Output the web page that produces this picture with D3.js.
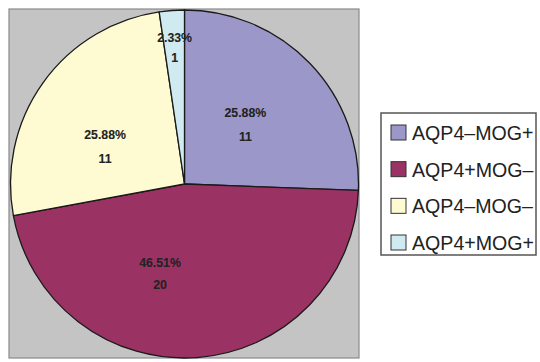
<!DOCTYPE html>
<html>
<head>
<meta charset="utf-8">
<script src="https://cdn.jsdelivr.net/npm/d3@7"></script>
<style>
  html, body { margin: 0; padding: 0; background: #ffffff; }
  svg { display: block; }
</style>
</head>
<body>
<svg id="chart" width="540" height="362"></svg>
<script>
// Patient groups by antibody status
const categories = ["AQP4\u2013MOG+", "AQP4+MOG\u2013", "AQP4\u2013MOG\u2013", "AQP4+MOG+"];
const counts = [11, 20, 11, 1];
const percentLabels = ["25.88%", "46.51%", "25.88%", "2.33%"];
const colors = ["#9b98c9", "#9a3364", "#fefbd2", "#cfeaf1"];

const svg = d3.select("#chart");

// Plot area
const plot = { x: 9, y: 9, w: 350, h: 349 };
svg.append("rect")
  .attr("x", plot.x).attr("y", plot.y)
  .attr("width", plot.w).attr("height", plot.h)
  .attr("fill", "#c4c4c4")
  .attr("stroke", "#8a8a8a")
  .attr("stroke-width", 1.2);

const cx = 184.5, cy = 184, r = 174;

const data = categories.map((c, i) => ({ name: c, value: counts[i], pct: percentLabels[i], color: colors[i] }));

const pie = d3.pie().value(d => d.value).sort(null);
const arc = d3.arc().innerRadius(0).outerRadius(r);

const g = svg.append("g").attr("transform", `translate(${cx},${cy})`);
const arcs = pie(data);

g.selectAll("path.slice")
  .data(arcs)
  .join("path")
  .attr("class", "slice")
  .attr("d", arc)
  .attr("fill", d => d.data.color)
  .attr("stroke", "#1a1a1a")
  .attr("stroke-width", 1.3)
  .attr("stroke-linejoin", "round");

// Label placement per slice: fraction of the radius and an angular nudge (degrees)
const labelRadius = [0.486, 0.536, 0.504, 0.783];
const labelNudge = [0, 19.4, -10.5, 0];
const lineGap = [24, 22, 24, 20];
arcs.forEach((d, i) => {
  const a = (d.startAngle + d.endAngle) / 2 + labelNudge[i] * Math.PI / 180;
  const rr = r * labelRadius[i];
  const x = rr * Math.sin(a);
  const y = -rr * Math.cos(a);
  const t = g.append("text")
    .attr("text-anchor", "middle")
    .attr("font-family", "Liberation Sans, Arial, sans-serif")
    .attr("font-size", 12.3)
    .attr("font-weight", "bold")
    .attr("fill", "#222222")
    .attr("stroke", "#222222")
    .attr("stroke-width", 0.1);
  t.append("tspan").attr("x", x).attr("y", y - lineGap[i] / 2 + 4).text(d.data.pct);
  t.append("tspan").attr("x", x).attr("y", y + lineGap[i] / 2 + 4).text(d.data.value);
});

// Legend
const legend = svg.append("g");
legend.append("rect")
  .attr("x", 381).attr("y", 113)
  .attr("width", 155).attr("height", 142)
  .attr("fill", "#ffffff")
  .attr("stroke", "#555555")
  .attr("stroke-width", 1.5);

const rowY = d3.scalePoint().domain(categories).range([133, 243]);

const rows = legend.selectAll("g.row")
  .data(data)
  .join("g")
  .attr("class", "row")
  .attr("transform", d => `translate(0,${rowY(d.name)})`);

rows.append("rect")
  .attr("x", 391).attr("y", -8)
  .attr("width", 15).attr("height", 15)
  .attr("fill", d => d.color)
  .attr("stroke", "#333333")
  .attr("stroke-width", 1);

rows.append("text")
  .attr("x", 412).attr("y", 7)
  .attr("font-family", "Liberation Sans, Arial, sans-serif")
  .attr("font-size", 19.6)
  .attr("fill", "#222222")
  .text(d => d.name);
</script>
</body>
</html>
